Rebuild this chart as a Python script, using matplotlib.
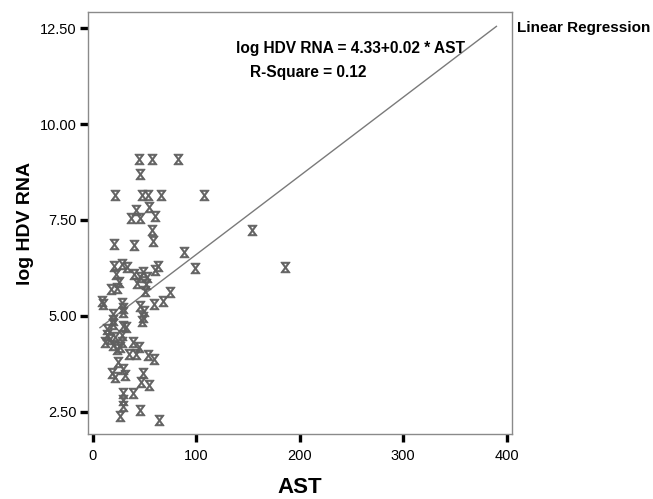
import numpy as np
import matplotlib.pyplot as plt
from matplotlib.markers import MarkerStyle
from matplotlib.transforms import Affine2D

plt.rcParams['font.family'] = ['Liberation Sans', 'DejaVu Sans']

# Datos
ast = [45.0, 57.3, 82.1, 45.7, 21.8, 47.9, 53.7, 66.0, 107.5, 54.7,
       41.8, 37.3, 45.7, 60.5, 57.3, 154.2, 58.6, 20.9, 39.6, 87.9,
       99.1, 185.8, 20.9, 28.3, 32.9, 63.1, 60.5, 22.5, 40.2, 48.9,
       52.2, 45.7, 25.7, 23.2, 17.4, 42.8, 51.5, 50.8, 75.0, 67.6,
       59.2, 9.0, 10.2, 28.0, 29.6, 45.7, 49.9, 48.9, 47.9, 19.9,
       19.3, 29.6, 13.5, 31.9, 19.9, 29.6, 13.5, 11.9, 16.7, 21.5,
       19.9, 23.2, 28.0, 28.6, 26.4, 38.6, 45.0, 41.5, 35.4, 53.7,
       59.5, 24.7, 18.4, 21.5, 29.6, 31.2, 48.9, 46.4, 54.4, 29.6,
       38.6, 29.6, 29.6, 45.7, 26.4, 64.3]
log_hdv = [9.08, 9.08, 9.08, 8.69, 8.15, 8.15, 8.15, 8.15, 8.15, 7.85,
           7.76, 7.55, 7.55, 7.61, 7.25, 7.24, 6.96, 6.87, 6.85, 6.66,
           6.25, 6.28, 6.31, 6.35, 6.27, 6.31, 6.20, 6.09, 6.09, 6.14,
           6.01, 6.01, 5.88, 5.73, 5.71, 5.85, 5.84, 5.64, 5.62, 5.38,
           5.30, 5.40, 5.30, 5.33, 5.21, 5.25, 5.12, 4.97, 4.86, 5.06,
           4.90, 5.10, 4.67, 4.71, 4.80, 4.75, 4.49, 4.32, 4.41, 4.45,
           4.23, 4.15, 4.49, 4.32, 4.19, 4.32, 4.19, 4.02, 4.02, 3.99,
           3.89, 3.80, 3.50, 3.41, 3.63, 3.45, 3.51, 3.28, 3.19, 2.98,
           2.98, 2.80, 2.65, 2.54, 2.39, 2.30]

# Recta de regresion (tal como aparece dibujada)
fit_range = [7, 390]
intercept, slope = 4.55, 0.0205

x_ticks = [0, 100, 200, 300, 400]
y_ticks = [2.5, 5.0, 7.5, 10.0, 12.5]

fig = plt.figure(figsize=(6.53, 4.99), dpi=100)
ax = fig.add_axes([0.1348, 0.130, 0.6492, 0.846])

marker = MarkerStyle(r'$\bowtie$', transform=Affine2D().rotate_deg(90))
ax.scatter(ast, log_hdv, marker=marker, s=58, color='#606060', linewidths=0.6, zorder=3)

xf = np.array(fit_range)
ax.plot(xf, intercept + slope * xf, color='#7a7a7a', linewidth=1.0)

ax.set_xlim(-4.5, 405)
ax.set_ylim(1.92, 12.92)
ax.set_xticks(x_ticks)
ax.set_yticks(y_ticks)
ax.set_yticklabels([f"{v:.2f}" for v in y_ticks])

for s in ax.spines.values():
    s.set_color('#8a8a8a')
    s.set_linewidth(1.0)

ax.tick_params(axis='both', direction='out', length=6, width=2.4, color='black', labelsize=10.5)
ax.tick_params(axis='x', pad=5)
ax.tick_params(axis='y', pad=2)

ax.set_xlabel("AST", fontsize=16, fontweight='bold', labelpad=10)
ax.set_ylabel("log HDV RNA", fontsize=14, fontweight='bold', labelpad=4)

fig.text(236 / 653, 1 - 49 / 499, "log HDV RNA = 4.33+0.02 * AST", fontsize=11.2,
         fontweight='bold', va='center', ha='left')
fig.text(250 / 653, 1 - 72 / 499, "R-Square = 0.12", fontsize=11.2,
         fontweight='bold', va='center', ha='left')
fig.text(517 / 653, 1 - 28 / 499, "Linear Regression", fontsize=11,
         fontweight='bold', va='center', ha='left')

fig.savefig("out.png", dpi=100)
